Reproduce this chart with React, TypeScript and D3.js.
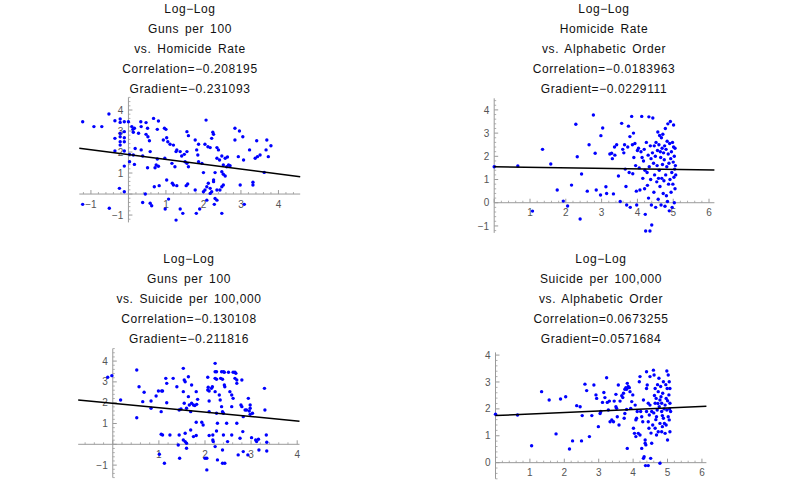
import React from "react";
import * as d3 from "d3";

type Pt = [number, number];

// ---------- titles ----------
const titles1 = ["Log\u2212Log", "Guns per 100", "vs. Homicide Rate", "Correlation=\u22120.208195", "Gradient=\u22120.231093"];
const titles2 = ["Log\u2212Log", "Homicide Rate", "vs. Alphabetic Order", "Correlation=\u22120.0183963", "Gradient=\u22120.0229111"];
const titles3 = ["Log\u2212Log", "Guns per 100", "vs. Suicide per 100,000", "Correlation=\u22120.130108", "Gradient=\u22120.211816"];
const titles4 = ["Log\u2212Log", "Suicide per 100,000", "vs. Alphabetic Order", "Correlation=0.0673255", "Gradient=0.0571684"];

// ---------- fit lines ----------
const gradients = [-0.231093, -0.0229111, -0.211816, 0.0571684];
const intercepts = [1.88, 1.55, 1.97, 1.75];

// ---------- tick labels ----------
const xTicks1 = [-1, 1, 2, 3, 4];
const yTicks1 = [-1, 1, 2, 3, 4];
const xTicks2 = [1, 2, 3, 4, 5, 6];
const yTicks2 = [-1, 0, 1, 2, 3, 4];
const xTicks3 = [1, 2, 3, 4];
const yTicks3 = [-1, 1, 2, 3, 4];
const xTicks4 = [1, 2, 3, 4, 5, 6];
const yTicks4 = [0, 1, 2, 3, 4];

// ---------- data (log-log) ----------
const p1Points: Pt[] = [
  [-1.22,3.44],[-0.92,3.21],[-0.71,3.21],[-0.52,3.81],[-1.22,-0.49],[-0.51,-0.68],
  [-0.36,3.49],[-0.22,3.57],[-0.22,3.41],[-0.11,3.44],[0,3.44],[-0.36,2.65],[-0.22,2.89],[-0.22,2.73],[-0.11,2.97],[-0.11,2.68],[-0.22,2.49],[-0.11,2.49],[-0.22,2.33],[-0.36,2.05],[-0.11,2.05],[-0.11,1.33],[0.03,1.89],[0.03,1.54],[-0.24,0.27],[-0.11,0.11],
  [0.09,3.21],[0.12,3.08],[0.16,3.13],[0.13,2.94],[0.27,2.89],[0.33,3.44],[0.34,3.21],[0.47,3.4],[0.51,3.13],[0.47,2.84],[0.52,2.73],[0.56,2.54],[0.18,2.17],[0.34,2.1],[0.58,2.02],[0.13,1.86],[0.38,1.81],[0.16,1.41],[0.51,1.25],[0.45,0.0],[0.38,-0.4],[0.58,-0.44],[0.62,-0.56],
  [0.67,3.6],[0.8,3.48],[0.77,3.08],[0.96,3.13],[1.0,3.08],[1.02,2.68],[1.05,2.49],[1.11,2.37],[0.93,2.57],[0.77,1.67],[0.71,1.25],[0.8,1.32],[0.97,1.7],[1.02,0.67],[0.69,0.35],[0.82,0.4],[0.74,1.38],[0.98,-0.71],[1.07,-0.24],
  [1.2,2.33],[1.27,2.02],[1.29,2.1],[1.38,2.02],[1.42,1.81],[1.49,1.89],[1.56,2.02],[1.16,1.46],[1.24,1.3],[1.17,0.51],[1.2,0.43],[1.29,0.4],[1.56,2.97],[1.6,2.78],[1.51,1.54],[1.56,1.46],[1.6,1.3],[1.54,0.4],[1.58,0.48],[1.38,-0.71],[1.45,-0.92],[1.27,-1.24],
  [1.78,2.57],[1.82,2.1],[1.87,2.37],[1.85,1.86],[1.87,1.54],[1.96,1.46],[1.78,0.19],[1.81,-0.92],[1.9,-0.71],[2.04,2.37],[2.07,3.52],[2.12,2.25],[2.0,1.02],[2.13,0.51],[2.09,0.35],[2.04,0.19],[2.0,0.11],[2.09,-0.29],
  [2.18,2.21],[2.22,2.65],[2.25,2.94],[2.27,2.84],[2.36,2.21],[2.4,2.1],[2.36,1.7],[2.43,1.62],[2.31,1.02],[2.27,0.67],[2.27,0.59],[2.18,0.27],[2.22,0.11],[2.36,0.19],[2.31,-0.21],[2.36,-0.29],[2.18,0.03],[2.29,-0.49],[2.49,1.81],[2.58,1.7],[2.64,1.76],[2.53,1.38],[2.62,1.3],[2.49,1.06],[2.53,0.94],[2.58,0.86],[2.49,0.35],[2.53,0.43],[2.44,0.19],[2.49,-0.92],[2.67,1.38],
  [2.71,1.35],[2.84,3.13],[2.96,3.0],[3.05,2.73],[2.84,2.57],[2.93,1.78],[3.07,1.62],[3.23,2.1],[3.32,0.56],[3.32,0.43],[2.98,0.43],[3.09,-0.49],[3.38,1.7],[3.44,1.78],[3.51,1.86],[3.42,2.54],[3.69,2.57],[3.62,1.03],[3.67,2.1],[3.73,1.78],[3.8,2.3],
];

const p2Points: Pt[] = [
  [0,1.55],[0.66,1.58],[1.07,-0.36],[1.35,2.3],[1.58,1.67],[1.76,0.55],[1.93,0.07],[2.05,-0.14],[2.16,0.76],[2.28,3.38],[2.32,1.98],[2.4,-0.7],[2.44,1.24],[2.6,0.5],[2.65,2.5],[2.77,3.78],[2.82,2.13],[2.85,0.55],[2.98,2.89],[3.03,3.22],[2.97,0.33],[3.12,0.69],[3.14,0.4],[3.23,2.1],[3.28,2.13],[3.3,1.9],[3.33,0.38],[3.36,2.4],[3.37,2.05],[3.42,2.5],
  [3.47,1.15],[3.52,0.05],[3.56,3.42],[3.59,2.3],[3.62,2.15],[3.64,2.5],[3.66,1.45],[3.68,0.7],[3.7,-0.1],[3.73,2.4],[3.75,3.3],[3.77,1.3],[3.79,2.85],[3.8,-0.2],[3.84,3.72],[3.86,2.5],[3.87,1.25],[3.89,3.0],[3.9,1.95],[3.93,2.55],[3.95,1.6],[3.97,0.5],[3.98,-0.1],[4.0,2.25],[4.03,2.35],[4.05,1.5],[4.07,0.55],[4.1,2.2],[4.12,3.72],[4.13,1.95],[4.15,1.05],[4.17,1.8],[4.19,2.3],[4.2,0.6],[4.21,1.4],[4.22,-0.5],[4.23,-1.22],[4.25,2.6],[4.27,1.3],[4.28,0.75],[4.3,2.05],[4.31,0.2],[4.32,3.7],[4.33,1.55],[4.35,-1.22],[4.36,2.45],[4.37,1.0],[4.38,1.9],[4.39,-0.1],[4.4,-0.96],
  [4.42,2.15],[4.43,3.65],[4.45,1.7],[4.46,0.45],[4.47,2.45],[4.48,1.2],[4.5,2.0],[4.51,-0.2],[4.52,2.6],[4.54,0.9],[4.55,1.6],[4.56,2.25],[4.57,3.05],[4.58,0.15],[4.59,1.05],[4.6,2.5],[4.61,1.4],[4.62,2.9],[4.63,0.7],[4.64,2.2],[4.65,1.95],[4.66,-0.1],[4.67,2.8],[4.68,1.05],[4.69,2.35],[4.7,1.65],[4.71,2.95],[4.72,0.4],[4.73,2.15],[4.74,0.95],[4.75,1.85],[4.76,2.45],[4.77,-0.15],[4.78,3.2],[4.79,1.2],[4.8,2.3],[4.81,0.3],[4.82,1.55],[4.83,2.65],[4.84,0.05],[4.85,3.4],[4.86,2.1],[4.87,0.8],[4.88,1.7],[4.89,-0.35],[4.9,2.55],[4.91,1.0],[4.92,3.5],[4.93,1.9],[4.94,0.45],[4.95,2.2],[4.96,1.3],[4.97,-0.2],[4.98,2.6],[4.99,0.8],[5.0,1.75],[5.01,3.35],[5.01,2.4],[5.02,1.1],[5.03,0.0],[5.03,2.0],[5.04,1.45],[5.05,2.35],[5.05,0.6],[5.06,1.6],[5.07,1.2],
];

const p3Points: Pt[] = [
  [-0.11,3.22],[-0.02,3.3],[0.17,2.13],[0.52,3.57],[0.52,1.28],[0.57,2.77],[0.65,2.05],[0.68,2.5],[0.83,1.73],[0.83,2.08],[0.94,2.32],[0.99,2.56],[1.06,2.56],[1.08,2.56],[1.05,1.57],[1.05,0.48],[1.08,0.45],[1.12,-0.91],[1.01,-0.48],[1.15,3.17],[1.17,2.93],[1.17,2.0],[1.24,0.45],[1.31,3.17],[1.39,2.77],[1.42,-0.03],[1.44,0.45],[1.45,-0.67],[1.44,1.65],[1.48,1.7],
  [1.53,3.65],[1.55,3.09],[1.57,3.01],[1.53,2.53],[1.55,1.97],[1.57,0.53],[1.57,0.13],[1.6,0.05],[1.53,0.21],[1.6,-0.19],[1.64,3.25],[1.64,2.29],[1.6,1.73],[1.66,1.89],[1.69,1.57],[1.71,1.97],[1.75,1.89],[1.78,1.86],[1.82,1.92],[1.69,0.69],[1.71,2.85],[1.75,0.37],[1.81,0.42],[1.81,2.53],[1.81,1.06],[1.84,2.16],[1.93,1.06],[1.96,0.93],[2.0,-0.67],[2.04,-0.67],[2.04,-1.23],
  [2.06,3.22],[2.06,2.61],[2.07,2.74],[2.09,2.56],[2.09,2.08],[2.09,1.57],[2.09,0.42],[2.14,2.69],[2.16,2.77],[2.17,0.45],[2.17,0.21],[2.18,0.13],[2.22,3.89],[2.22,3.49],[2.25,3.49],[2.22,3.17],[2.25,3.13],[2.22,2.53],[2.25,1.49],[2.25,0.64],[2.22,-0.11],[2.27,1.01],[2.27,-0.75],[2.31,2.37],[2.33,2.13],[2.34,3.17],[2.38,3.13],[2.36,3.49],[2.4,3.49],[2.42,3.46],[2.38,1.57],[2.4,1.49],[2.36,1.81],[2.4,0.45],[2.38,-0.91],[2.43,-0.91],[2.38,-0.27],[2.42,2.85],[2.43,2.77],[2.47,1.01],[2.49,0.13],
  [2.51,3.46],[2.54,2.53],[2.58,2.37],[2.61,2.21],[2.58,1.81],[2.58,0.45],[2.61,3.46],[2.65,3.46],[2.67,3.41],[2.65,3.17],[2.69,3.09],[2.69,2.93],[2.69,1.01],[2.72,-0.51],[2.76,0.29],[2.78,1.89],[2.8,1.81],[2.8,3.09],[2.82,0.61],[2.83,1.33],[2.83,-0.35],[2.87,1.65],[2.9,1.65],[2.93,-0.51],[2.94,2.21],[2.96,1.6],[2.98,1.73],[2.98,1.89],[2.98,1.44],[3.01,0.32],[3.03,1.49],[3.1,0.21],[3.12,0.13],[3.16,0.24],[3.17,-0.27],[3.29,2.69],[3.3,1.65],[3.33,0.45],[3.34,0.1],[3.34,-0.32],
];

const p4Points: Pt[] = [
  [0,1.8],[0.64,1.77],[1.05,0.63],[1.34,2.64],[1.56,2.33],[1.76,1.07],[1.89,2.37],[2.04,2.45],[2.15,0.51],[2.24,0.81],[2.36,2.12],[2.46,2.08],[2.5,0.81],[2.52,1.75],[2.6,2.92],[2.65,2.68],[2.73,0.97],[2.8,1.75],[2.86,2.89],[2.92,2.52],[2.94,2.39],[2.99,1.34],[3.04,1.83],[3.06,1.9],[3.11,2.24],[3.15,2.61],[3.18,2.42],[3.23,3.16],[3.25,2.24],[3.28,1.96],[3.31,2.29],[3.33,1.52],[3.38,1.59],[3.43,1.52],[3.45,2.29],[3.5,2.54],[3.5,2.08],[3.52,2.02],[3.54,1.71],[3.57,2.89],[3.59,1.4],
  [3.62,2.29],[3.67,2.49],[3.7,2.42],[3.72,2.58],[3.76,2.73],[3.79,2.79],[3.81,2.73],[3.83,2.95],[3.74,1.65],[3.76,1.83],[3.81,1.98],[3.83,0.53],[3.86,2.83],[3.89,2.79],[3.91,2.64],[3.93,2.02],[3.96,2.27],[3.99,2.52],[4.01,1.28],[4.04,1.09],[4.06,2.14],[4.08,1.59],[4.08,0.97],[4.1,1.65],[4.12,1.9],[4.15,1.09],[4.18,3.01],[4.2,1.03],[4.2,3.2],[4.22,1.9],[4.25,1.71],[4.25,0.53],[4.28,1.52],[4.3,2.33],[4.3,0.16],[4.32,0.22],[4.35,0.84],[4.35,0.72],[4.37,0.66],
  [4.39,3.38],[4.39,2.76],[4.39,1.9],[4.41,2.89],[4.44,2.21],[4.44,1.52],[4.46,1.28],[4.47,1.77],[4.49,3.2],[4.49,2.14],[4.51,0.16],[4.54,1.9],[4.54,0.72],[4.57,1.4],[4.59,3.44],[4.61,3.26],[4.64,2.76],[4.64,2.21],[4.64,1.28],[4.67,2.39],[4.68,1.71],[4.68,1.03],[4.7,1.96],[4.73,2.64],[4.73,1.15],[4.75,3.14],[4.76,2.08],[4.78,2.33],[4.78,1.46],[4.78,-0.02],[4.8,2.83],[4.83,1.9],[4.83,1.15],[4.83,2.21],[4.85,1.34],[4.86,2.58],[4.88,3.01],[4.88,1.65],[4.91,1.46],[4.93,2.14],[4.93,1.09],[4.96,2.39],[4.96,1.4],[4.98,1.96],[4.98,3.41],[4.99,2.76],[5.0,0.84],[5.02,1.71],[5.02,3.26],[5.04,2.52],[5.05,1.59],[5.05,3.01],[5.07,2.21],[5.07,1.15],[5.07,2.76],[5.09,1.9],
  [4.36,-0.11],[4.44,-0.11],[4.52,1.1],[4.6,1.85],[4.62,2.5],[4.66,1.6],[4.71,2.9],[4.81,2.45],[4.9,2.0],[4.95,2.9],[5.0,2.3],[5.06,2.0],[4.85,1.75],[4.72,2.2],
];

// ---------- layout ----------
interface Layout {
  xDomain: [number, number];
  xRange: [number, number];
  yDomain: [number, number];
  yRange: [number, number];
  titleX: number;
  titleY: number;
}

const layouts: Layout[] = [
  { xDomain: [-1.31, 4.58], xRange: [79.3, 300.2], yDomain: [-1.35, 4.6], yRange: [222.4, 97.4], titleX: 190, titleY: 13.3 },
  { xDomain: [0, 6.15], xRange: [494.2, 714.4], yDomain: [-1.3, 4.5], yRange: [232.9, 98.3], titleX: 604, titleY: 13.3 },
  { xDomain: [-0.75, 4.05], xRange: [78.2, 299.5], yDomain: [-1.6, 4.6], yRange: [477.6, 348.6], titleX: 189, titleY: 263.3 },
  { xDomain: [0, 6.13], xRange: [495.5, 706.4], yDomain: [-0.6, 4.1], yRange: [478.8, 352.4], titleX: 601, titleY: 263.3 },
];

const AXIS = "#9a9a9a";
const LABEL = "#555555";
const POINT = "#0000ff";
const fmt = (v: number) => (v < 0 ? "\u2212" + Math.abs(v) : String(v));

function Panel({ points, titles, grad, icpt, xTicks, yTicks, L }: {
  points: Pt[]; titles: string[]; grad: number; icpt: number; xTicks: number[]; yTicks: number[]; L: Layout;
}) {
  const x = d3.scaleLinear().domain(L.xDomain).range(L.xRange);
  const y = d3.scaleLinear().domain(L.yDomain).range(L.yRange);
  const x0 = x(Math.max(0, L.xDomain[0]));
  const y0 = y(0);
  const minor = (d: [number, number]) => {
    const out: number[] = [];
    for (let k = Math.ceil(d[0] * 5); k <= Math.floor(d[1] * 5); k++) if (k % 5 !== 0) out.push(k / 5);
    return out;
  };
  const major = (d: [number, number]) => d3.range(Math.ceil(d[0]), Math.floor(d[1]) + 1);
  const line = d3.line<number>().x((v) => x(v)).y((v) => y(icpt + grad * v));
  return (
    <g>
      {titles.map((t, i) => (
        <text key={i} x={L.titleX} y={L.titleY + i * 20} textAnchor="middle" fontSize={12}
          fontFamily="'Liberation Sans', Arial, sans-serif" fill="#111" letterSpacing={0.6} wordSpacing={2}>
          {t}
        </text>
      ))}
      {/* axes */}
      <line x1={L.xRange[0]} x2={L.xRange[1]} y1={y0} y2={y0} stroke={AXIS} strokeWidth={1} />
      <line x1={x0} x2={x0} y1={L.yRange[0]} y2={L.yRange[1]} stroke={AXIS} strokeWidth={1} />
      {minor(L.xDomain).map((v) => (
        <line key={"xm" + v} x1={x(v)} x2={x(v)} y1={y0} y2={y0 - 2} stroke={AXIS} strokeWidth={0.8} />
      ))}
      {major(L.xDomain).map((v) => (
        <line key={"xM" + v} x1={x(v)} x2={x(v)} y1={y0} y2={y0 - 4} stroke={AXIS} strokeWidth={1} />
      ))}
      {minor(L.yDomain).map((v) => (
        <line key={"ym" + v} x1={x0} x2={x0 + 2} y1={y(v)} y2={y(v)} stroke={AXIS} strokeWidth={0.8} />
      ))}
      {major(L.yDomain).map((v) => (
        <line key={"yM" + v} x1={x0} x2={x0 + 4} y1={y(v)} y2={y(v)} stroke={AXIS} strokeWidth={1} />
      ))}
      {xTicks.map((v) => (
        <text key={"xl" + v} x={x(v)} y={y0 + 13.5} textAnchor="middle" fontSize={10}
          fontFamily="'Liberation Sans', Arial, sans-serif" fill={LABEL}>{fmt(v)}</text>
      ))}
      {yTicks.map((v) => (
        <text key={"yl" + v} x={x0 - 5} y={y(v) + 3.6} textAnchor="end" fontSize={10}
          fontFamily="'Liberation Sans', Arial, sans-serif" fill={LABEL}>{fmt(v)}</text>
      ))}
      {points.map((p, i) => (
        <circle key={i} cx={x(p[0])} cy={y(p[1])} r={1.7} fill={POINT} />
      ))}
      <path d={line([L.xDomain[0], L.xDomain[1]]) || ""} stroke="#000" strokeWidth={1.5} fill="none" />
    </g>
  );
}

export default function App() {
  const panels = [
    { points: p1Points, titles: titles1, xTicks: xTicks1, yTicks: yTicks1 },
    { points: p2Points, titles: titles2, xTicks: xTicks2, yTicks: yTicks2 },
    { points: p3Points, titles: titles3, xTicks: xTicks3, yTicks: yTicks3 },
    { points: p4Points, titles: titles4, xTicks: xTicks4, yTicks: yTicks4 },
  ];
  return (
    <svg width={786} height={486} viewBox="0 0 786 486"
      style={{ position: "absolute", left: 0, top: 0, background: "#fff" }}>
      <rect width={786} height={486} fill="#fff" />
      {panels.map((p, i) => (
        <Panel key={i} points={p.points} titles={p.titles} grad={gradients[i]} icpt={intercepts[i]}
          xTicks={p.xTicks} yTicks={p.yTicks} L={layouts[i]} />
      ))}
    </svg>
  );
}
